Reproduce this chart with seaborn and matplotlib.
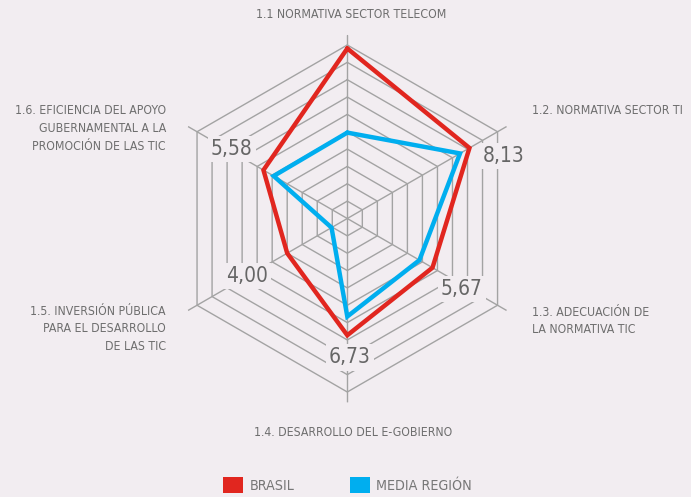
import numpy as np
import pandas as pd
import matplotlib
matplotlib.use("Agg")
import matplotlib.pyplot as plt
from matplotlib.patches import Patch
from matplotlib import font_manager as fm
import seaborn as sns

# ---- data ----
categories = [
    "1.1 NORMATIVA SECTOR TELECOM",
    "1.2. NORMATIVA SECTOR TI",
    "1.3. ADECUACIÓN DE\nLA NORMATIVA TIC",
    "1.4. DESARROLLO DEL E-GOBIERNO",
    "1.5. INVERSIÓN PÚBLICA\nPARA EL DESARROLLO\nDE LAS TIC",
    "1.6. EFICIENCIA DEL APOYO\nGUBERNAMENTAL A LA\nPROMOCIÓN DE LAS TIC",
]
series_names = ["BRASIL", "MEDIA REGIÓN"]
brasil = [9.80, 8.13, 5.67, 6.73, 4.00, 5.58]
media_region = [4.95, 7.50, 4.80, 5.65, 1.05, 4.90]
value_labels = ["", "8,13", "5,67", "6,73", "4,00", "5,58"]
ring_levels = list(range(1, 11))

# ---- style ----
BG = "#f2edf1"
GRID = "#a3a3a3"
TXT = "#6e6e6e"
RED = "#e1261f"
BLUE = "#00aeef"

sns.set_theme(style="white")

# pick a narrow face if one is installed
cond = [f for f in fm.fontManager.ttflist
        if ("Condensed" in f.fname or "Narrow" in f.fname) and "Bold" not in f.fname
        and "Oblique" not in f.fname and "Italic" not in f.fname]
narrow_prop = None
for pref in ["LiberationSansNarrow-Regular", "DejaVuSansCondensed.ttf"]:
    for f in cond:
        if pref in f.fname:
            narrow_prop = fm.FontProperties(fname=f.fname)
            break
    if narrow_prop is not None:
        break
if narrow_prop is None:
    narrow_prop = fm.FontProperties(family="DejaVu Sans")
    scale = 0.9
else:
    scale = 1.0
plt.rcParams["font.family"] = ["DejaVu Sans"]

def fp(size):
    p = narrow_prop.copy()
    p.set_size(size * scale)
    return p

W, H = 691, 497
fig = plt.figure(figsize=(W / 100, H / 100), dpi=100, facecolor=BG)

cx, cy = 347.3, 218.5          # centre in px (top origin)
rmax = 10.6
rad_px = 173.5 / 10 * rmax
ax = fig.add_axes([(cx - rad_px) / W, (H - cy - rad_px) / H, 2 * rad_px / W, 2 * rad_px / H],
                  projection="polar")
ax.set_facecolor("none")
ax.set_theta_offset(np.pi / 2)
ax.set_theta_direction(-1)
ax.set_ylim(0, rmax)
ax.grid(False)
ax.set_xticks([])
ax.set_yticks([])
ax.spines["polar"].set_visible(False)

n = len(categories)
theta = np.linspace(0, 2 * np.pi, n, endpoint=False)
theta_closed = np.append(theta, theta[0])

# hexagonal grid
for lvl in ring_levels:
    ax.plot(theta_closed, [lvl] * (n + 1), color=GRID, lw=1.0, zorder=1)
for t in theta:
    ax.plot([t, t], [0, rmax], color=GRID, lw=1.0, zorder=1)

# data in long form
rows = []
for name, vals in zip(series_names, [brasil, media_region]):
    closed = list(vals) + [vals[0]]
    for i, (t, v) in enumerate(zip(theta_closed, closed)):
        rows.append({"serie": name, "theta": t, "value": v, "order": i})
df = pd.DataFrame(rows)

sns.lineplot(data=df, x="theta", y="value", hue="serie",
             hue_order=["MEDIA REGIÓN", "BRASIL"],
             palette={"BRASIL": RED, "MEDIA REGIÓN": BLUE},
             sort=False, estimator=None, lw=3.2, legend=False, ax=ax, zorder=3)
for line in ax.lines[-2:]:
    line.set_solid_joinstyle("miter")
ax.set_xlabel("")
ax.set_ylabel("")
ax.set_ylim(0, rmax)
ax.set_xticks([])
ax.set_yticks([])

# value labels (Brasil)
offsets = [(0, 0), (34.5, -7.8), (29.2, -21.3), (2.7, -22.2), (-40.2, -22.6), (-31.8, 21.0)]
for t, v, lab, off in zip(theta, brasil, value_labels, offsets):
    if not lab:
        continue
    ax.annotate(lab, xy=(t, v), xytext=off, textcoords="offset pixels",
                ha="center", va="center", fontproperties=fp(15), color="#666666",
                bbox=dict(boxstyle="square,pad=0.15", fc=BG, ec="none"), zorder=4)

# category labels
def ftext(x, y, s, ha):
    fig.text(x / W, 1 - y / H, s, ha=ha, va="center", fontproperties=fp(8.8), color=TXT,
             linespacing=1.45, multialignment=ha)

ftext(351.5, 14, categories[0], "center")
ftext(532, 111, categories[1], "left")
ftext(532, 321, categories[2], "left")
ftext(353, 432, categories[3], "center")
ftext(166, 329, categories[4], "right")
ftext(166, 128.5, categories[5], "right")

# legend
handles = [Patch(facecolor=RED, edgecolor="none"), Patch(facecolor=BLUE, edgecolor="none")]
fig.legend(handles, series_names, loc="center", bbox_to_anchor=(347.5 / W, 1 - 485 / H),
           ncol=2, frameon=False, prop=fp(10.3), labelcolor="#777777",
           handlelength=1.38, handleheight=1.38, handletextpad=0.45,
           columnspacing=3.9, borderpad=0)

fig.savefig("out.png", dpi=100, facecolor=BG)
